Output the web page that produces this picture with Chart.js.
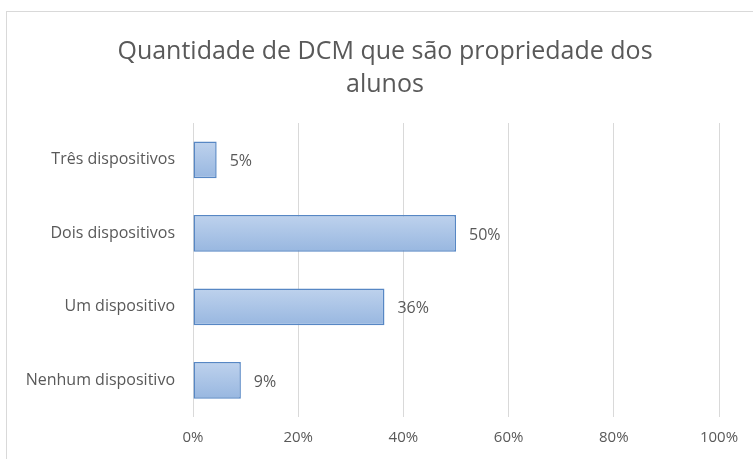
<!DOCTYPE html>
<html>
<head>
<meta charset="utf-8">
<script src="https://cdn.jsdelivr.net/npm/chart.js@4/dist/chart.umd.min.js"></script>
<style>
  html, body { margin: 0; padding: 0; background: #fff; overflow: hidden; }
  #wrap { position: absolute; left: 0; top: 0; width: 770px; height: 459px; }
</style>
</head>
<body>
<div id="wrap"><canvas id="dcmChart"></canvas></div>
<script>
const categories = ['Três dispositivos', 'Dois dispositivos', 'Um dispositivo', 'Nenhum dispositivo'];
const percentages = [4.5, 50, 36.4, 9.1];
const tickValues = [0, 20, 40, 60, 80, 100];
const chartTitle = ['Quantidade de DCM que são propriedade dos', 'alunos'];

const textGrey = '#595959';
const font = 'Open Sans';

// vertical gradient per bar, like the Excel style fill
function barFill(ctx) {
    const chart = ctx.chart;
    const yScale = chart.scales.y;
    if (!yScale || !chart.chartArea) return '#a9c3e6';
    const center = yScale.getPixelForValue(ctx.dataIndex);
    const half = yScale.height / categories.length / 4;
    const g = chart.ctx.createLinearGradient(0, center - half, 0, center + half);
    g.addColorStop(0, '#bed2ed');
    g.addColorStop(1, '#98b7e0');
    return g;
}

// frame of the chart box
const frame = {
    id: 'frame',
    beforeDraw(chart) {
        const c = chart.ctx;
        c.save();
        c.strokeStyle = '#d9d9d9';
        c.lineWidth = 1;
        c.strokeRect(6.5, 11.5, 900, 900);
        c.restore();
    }
};

// value labels to the right of each bar
const valueLabels = {
    id: 'valueLabels',
    afterDatasetsDraw(chart) {
        const c = chart.ctx;
        const meta = chart.getDatasetMeta(0);
        c.save();
        c.font = '16px "' + font + '"';
        c.fillStyle = textGrey;
        c.textAlign = 'left';
        c.textBaseline = 'middle';
        meta.data.forEach((bar, i) => {
            c.fillText(Math.round(percentages[i]) + '%', bar.x + 13, bar.y + 2);
        });
        c.restore();
    }
};

new Chart(document.getElementById('dcmChart'), {
    type: 'bar',
    data: {
        labels: categories,
        datasets: [{
            data: percentages,
            backgroundColor: barFill,
            borderColor: '#5787c4',
            borderWidth: 1.5,
            borderSkipped: false,
            barPercentage: 0.5,
            categoryPercentage: 1
        }]
    },
    options: {
        indexAxis: 'y',
        responsive: true,
        maintainAspectRatio: false,
        animation: false,
        layout: {
            padding: { left: 0, right: 0, top: 0, bottom: 0 }
        },
        plugins: {
            legend: { display: false },
            tooltip: { enabled: false },
            title: {
                display: true,
                text: chartTitle,
                color: textGrey,
                font: { family: font, size: 25, weight: 'normal', lineHeight: 1.32 },
                padding: { top: 35, bottom: 22 }
            }
        },
        scales: {
            x: {
                min: 0,
                max: 100,
                afterBuildTicks(axis) {
                    axis.ticks = tickValues.map(v => ({ value: v }));
                },
                ticks: {
                    color: textGrey,
                    font: { family: font, size: 15 },
                    padding: 12,
                    callback: v => v + '%'
                },
                grid: { color: '#d9d9d9', drawTicks: false },
                border: { display: false }
            },
            y: {
                afterFit(axis) { axis.width = 193; },
                ticks: {
                    color: textGrey,
                    font: { family: font, size: 16 },
                    padding: 18
                },
                grid: { display: false, drawTicks: false },
                border: { display: false }
            },
            // empty right-hand space so the plot ends at 100% like the original
            spacer: {
                type: 'linear',
                position: 'right',
                axis: 'y',
                afterFit(axis) { axis.width = 51; },
                ticks: { display: false },
                grid: { display: false, drawTicks: false },
                border: { display: false }
            }
        }
    },
    plugins: [frame, valueLabels]
});
</script>
</body>
</html>
